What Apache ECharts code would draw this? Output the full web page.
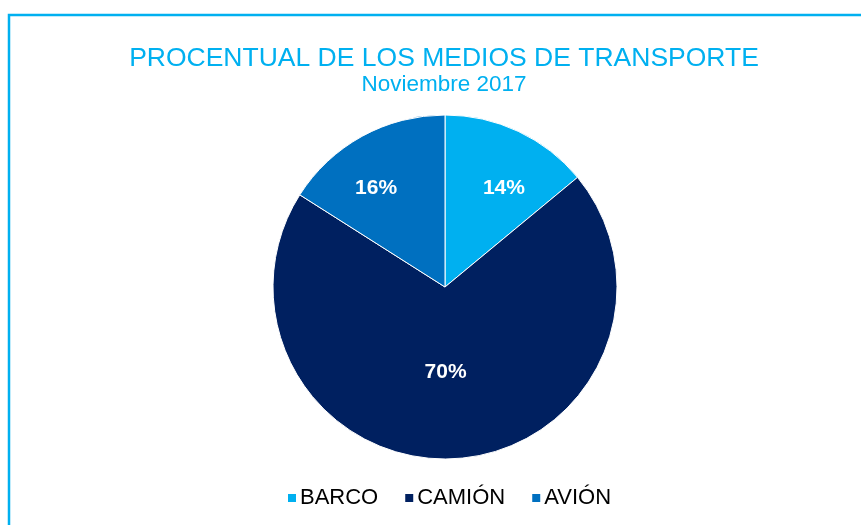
<!DOCTYPE html>
<html>
<head>
<meta charset="utf-8">
<script src="https://cdn.jsdelivr.net/npm/echarts@6/dist/echarts.min.js"></script>
<style>
  html, body { margin: 0; padding: 0; background: #fff; }
  #chart { width: 861px; height: 525px; }
</style>
</head>
<body>
<div id="chart"></div>
<script>
// chart data
var categories = ["BARCO", "CAMIÓN", "AVIÓN"];
var values = [14, 70, 16];
var colors = ["#00B0F0", "#002060", "#0070C0"];
var labelOffsets = [[21, -18], [-5, -4], [-26, -21]];

var chart = echarts.init(document.getElementById("chart"));

var pieData = categories.map(function (name, i) {
    return {
        name: name,
        value: values[i],
        itemStyle: { color: colors[i] },
        label: { offset: labelOffsets[i] }
    };
});

var font = "Liberation Sans, Arial, sans-serif";

var option = {
    backgroundColor: "#fff",
    textStyle: { fontFamily: font },
    graphic: [{
        type: "rect",
        shape: { x: 9, y: 15, width: 900, height: 600 },
        style: { fill: "none", stroke: "#00B0F0", lineWidth: 2.5 },
        silent: true
    }],
    title: {
        text: "PROCENTUAL DE LOS MEDIOS DE TRANSPORTE",
        subtext: "Noviembre 2017",
        left: 439,
        textAlign: "center",
        top: 40,
        itemGap: 1,
        textStyle: { color: "#00B0F0", fontSize: 26.5, fontWeight: "normal", fontFamily: font },
        subtextStyle: { color: "#00B0F0", fontSize: 22.5, fontFamily: font }
    },
    legend: {
        bottom: 11,
        left: 281,
        icon: "rect",
        itemWidth: 10,
        itemHeight: 10,
        itemGap: 25,
        textStyle: { color: "#000", fontSize: 22, fontFamily: font, padding: [0, 0, 0, -2] },
        data: categories
    },
    series: [{
        type: "pie",
        center: [445, 287],
        radius: 172,
        startAngle: 90,
        clockwise: true,
        animation: false,
        itemStyle: { borderColor: "#fff", borderWidth: 1 },
        label: {
            show: true,
            position: "inside",
            formatter: "{d}%",
            color: "#fff",
            fontSize: 21,
            fontWeight: "bold",
            fontFamily: font
        },
        labelLine: { show: false },
        emphasis: { disabled: true },
        data: pieData
    }]
};

chart.setOption(option);
window.addEventListener("resize", function () { chart.resize(); });
</script>
</body>
</html>
